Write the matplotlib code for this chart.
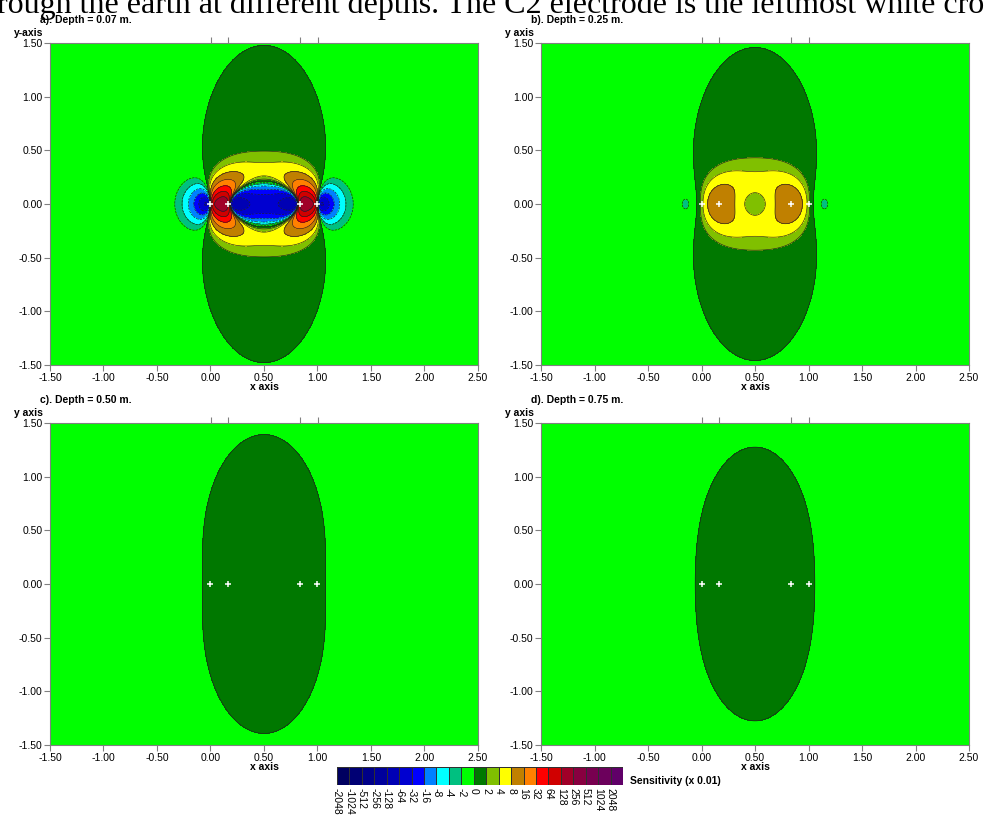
import numpy as np
import matplotlib
matplotlib.use("Agg")
import matplotlib.pyplot as plt
from matplotlib.colors import ListedColormap, BoundaryNorm

# electrodes (white crosses), C2, C1, P1, P2
elec_x = [0.0, 1.0 / 6.0, 5.0 / 6.0, 1.0]
depths = [0.07, 0.25, 0.50, 0.75]
panel_tags = ["a)", "b)", "c)", "d)"]
yaxis_names = ["y-axis", "y axis", "y axis", "y axis"]

# colour scale (x 0.01); box i covers (label i, label i+1]
cb_labels = [-2048, -1024, -512, -256, -128, -64, -32, -16, -8, -4, -2, 0,
             2, 4, 8, 16, 32, 64, 128, 256, 512, 1024, 2048]
cb_colors = ['#000060', '#000074', '#000088', '#00009c', '#0000b4', '#0000d0',
             '#0000ff', '#0080ff', '#00ffff', '#00c080', '#00ff00', '#007800',
             '#80c000', '#ffff00', '#c08000', '#ff8000', '#ff0000', '#d00000',
             '#a00028', '#880040', '#780050', '#6c005c', '#600068']
units = 100.0  # "Sensitivity (x 0.01)"


def frechet(xa, xb, X, Y, z):
    # pole-pole 3D frechet derivative, homogeneous half-space
    ra = np.sqrt((X - xa) ** 2 + Y ** 2 + z ** 2)
    rb = np.sqrt((X - xb) ** 2 + Y ** 2 + z ** 2)
    return ((X - xa) * (X - xb) + Y ** 2 + z ** 2) / (ra ** 3 * rb ** 3) / (4 * np.pi ** 2)


def sensitivity(X, Y, z):
    c2, c1, p1, p2 = elec_x
    return (frechet(c1, p1, X, Y, z) - frechet(c1, p2, X, Y, z)
            - frechet(c2, p1, X, Y, z) + frechet(c2, p2, X, Y, z))


W, H = 984, 815
fig = plt.figure(figsize=(W / 100, H / 100), dpi=100)
plt.rcParams['font.family'] = ['Liberation Sans', 'DejaVu Sans']

fig.text(-3 / W, 1 - 13 / H, "rough the earth at different depths. The C2 electrode is the leftmost white cross",
         family='Liberation Serif', fontsize=23, ha='left', va='baseline')

xs = np.linspace(-1.5, 2.5, 801)
ys = np.linspace(-1.5, 1.5, 601)
X, Y = np.meshgrid(xs, ys)
big = 1e12
levels = [-big] + cb_labels[1:] + [big]
line_levels = cb_labels[1:]

lefts = [50, 541, 50, 541]
tops = [43, 43, 423, 423]
pw, ph = 428, 322

for i, z in enumerate(depths):
    ax = fig.add_axes([lefts[i] / W, 1 - (tops[i] + ph) / H, pw / W, ph / H])
    S = sensitivity(X, Y, z) * units
    ax.contourf(X, Y, S, levels=levels, colors=cb_colors)
    ax.contour(X, Y, S, levels=line_levels, colors='#202020', linewidths=0.45)
    ax.plot(elec_x, np.zeros(len(elec_x)), '+', color='white', ms=5, mew=1.1)
    ax.set_xlim(-1.5, 2.5)
    ax.set_ylim(-1.5, 1.5)
    ax.set_xticks(np.arange(-1.5, 2.51, 0.5))
    ax.set_yticks(np.arange(-1.5, 1.51, 0.5))
    ax.xaxis.set_major_formatter(plt.FormatStrFormatter('%.2f'))
    ax.yaxis.set_major_formatter(plt.FormatStrFormatter('%.2f'))
    ax.tick_params(length=4, width=0.8, color='#808080', labelsize=7.5, pad=1.5)
    for sp in ax.spines.values():
        sp.set_color('#808080')
        sp.set_linewidth(0.8)
    top = ax.secondary_xaxis('top')
    top.set_xticks(elec_x)
    top.set_xticklabels([])
    top.tick_params(length=4, width=0.8, color='#808080')
    top.spines['top'].set_visible(False)

    x0 = lefts[i]
    fig.text((x0 - 10) / W, 1 - (tops[i] - 23) / H,
             f"{panel_tags[i]}. Depth = {z:.2f} m.", fontsize=7.5, weight='bold',
             ha='left', va='center')
    fig.text((x0 - 36) / W, 1 - (tops[i] - 10) / H, yaxis_names[i],
             fontsize=7.5, weight='bold', ha='left', va='center')
    fig.text((x0 + pw / 2) / W, 1 - (tops[i] + ph + 22) / H, "x axis",
             fontsize=7.5, weight='bold', ha='center', va='center')

# colour bar
cax = fig.add_axes([337 / W, 1 - 785 / H, 286 / W, 18 / H])
n = len(cb_colors)
cax.pcolormesh(np.arange(n + 1), [0, 1], np.arange(n).reshape(1, n),
               cmap=ListedColormap(cb_colors), norm=BoundaryNorm(np.arange(n + 1) - 0.5, n),
               edgecolors='#303030', linewidth=0.4)
cax.set_xlim(0, n)
cax.set_ylim(0, 1)
cax.set_yticks([])
cax.set_xticks(np.arange(n))
cax.set_xticklabels([str(v) for v in cb_labels], rotation=270, fontsize=7.5)
cax.tick_params(axis='x', length=0, pad=2)
for sp in cax.spines.values():
    sp.set_visible(False)
fig.text(630 / W, 1 - 781 / H, "Sensitivity (x 0.01)", fontsize=7.5, weight='bold',
         ha='left', va='center')

fig.savefig("out.png", dpi=100)
